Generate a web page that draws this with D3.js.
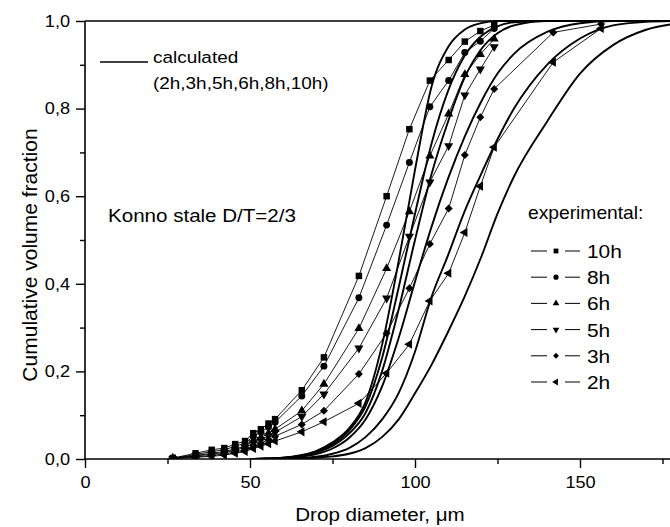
<!DOCTYPE html>
<html>
<head>
<meta charset="utf-8">
<script src="https://cdn.jsdelivr.net/npm/d3@7"></script>
<style>
  body { margin: 0; background: #fff; }
  svg { display: block; font-family: "Liberation Sans", Arial, sans-serif; }
</style>
</head>
<body>
<div id="chart"></div>
<script>
// drop diameters of the measured size classes (um)
const diam = [26.6, 33.5, 38.4, 42.2, 45.5, 48.5, 51.0, 53.3, 55.6, 57.6, 65.7, 72.4, 83.0, 91.4, 98.3, 104.5, 110.2, 115.1, 119.8, 124.0, 141.9, 156.4];

// experimental cumulative volume fractions (null = no point)
const exp10h = [0.002, 0.013, 0.021, 0.025, 0.034, 0.041, 0.059, 0.068, 0.081, 0.091, 0.157, 0.232, 0.418, 0.600, 0.753, 0.864, 0.911, 0.953, 0.977, 0.991, null, null];
const exp8h  = [0.002, 0.010, 0.017, 0.021, 0.029, 0.036, 0.052, 0.061, 0.073, 0.084, 0.144, 0.212, 0.368, 0.534, 0.677, 0.804, 0.864, 0.928, 0.954, 0.983, null, null];
const exp6h  = [0.002, 0.008, 0.013, 0.017, 0.023, 0.029, 0.042, 0.049, 0.059, 0.068, 0.110, 0.171, 0.298, 0.435, 0.565, 0.692, 0.788, 0.878, 0.924, 0.959, null, null];
const exp5h  = [0.001, 0.007, 0.011, 0.015, 0.020, 0.026, 0.037, 0.044, 0.053, 0.061, 0.097, 0.148, 0.253, 0.367, 0.508, 0.632, 0.715, 0.831, 0.890, 0.941, null, null];
const exp3h  = [0.001, 0.005, 0.008, 0.012, 0.016, 0.021, 0.030, 0.036, 0.044, 0.052, 0.079, 0.110, 0.194, 0.287, 0.390, 0.491, 0.572, 0.694, 0.780, 0.845, 0.974, 0.993];
const exp2h  = [0.001, 0.004, 0.006, 0.009, 0.013, 0.017, 0.024, 0.029, 0.035, 0.041, 0.062, 0.085, 0.127, 0.196, 0.262, 0.361, 0.424, 0.517, 0.623, 0.712, 0.906, 0.983];

const seriesNames = ["10h", "8h", "6h", "5h", "3h", "2h"];

const calcDiam = [50, 55, 60, 65, 70, 75, 80, 85, 90, 95, 100, 105, 110, 115, 120, 125, 130, 140, 150, 160, 170, 180];
const calcA = [0, 0.001, 0.003, 0.008, 0.018, 0.038, 0.070, 0.130, 0.260, 0.450, 0.660, 0.850, 0.940, 0.980, 0.995, 1, 1, 1, 1, 1, 1, 1];
const calcB = [0, 0.001, 0.003, 0.007, 0.016, 0.034, 0.065, 0.120, 0.230, 0.390, 0.560, 0.720, 0.840, 0.920, 0.965, 0.988, 0.997, 1, 1, 1, 1, 1];
const calcC = [0, 0.001, 0.002, 0.006, 0.014, 0.030, 0.058, 0.105, 0.200, 0.340, 0.500, 0.650, 0.770, 0.870, 0.935, 0.972, 0.990, 1, 1, 1, 1, 1];
const calcD = [0, 0, 0.002, 0.005, 0.011, 0.024, 0.048, 0.090, 0.165, 0.275, 0.405, 0.530, 0.640, 0.735, 0.815, 0.880, 0.925, 0.975, 0.995, 1, 1, 1];
const calcE = [0, 0, 0.001, 0.002, 0.005, 0.012, 0.025, 0.050, 0.090, 0.150, 0.245, 0.370, 0.465, 0.565, 0.650, 0.730, 0.800, 0.900, 0.960, 0.990, 0.998, 1];
const calcF = [0, 0, 0, 0.001, 0.003, 0.006, 0.012, 0.025, 0.050, 0.090, 0.150, 0.215, 0.290, 0.370, 0.460, 0.560, 0.645, 0.770, 0.880, 0.945, 0.980, 0.995];

const xMajor = [0, 50, 100, 150];
const xMinor = [25, 75, 125, 175];
const yMajor = [0, 0.2, 0.4, 0.6, 0.8, 1.0];
const yMinor = [0.1, 0.3, 0.5, 0.7, 0.9];

const W = 670, H = 527;
const margin = { top: 21, right: 0, bottom: 68, left: 85 };
const SX = 1.1; // the figure's lettering is a bit wider than Arial

const svg = d3.select("#chart").append("svg")
    .attr("width", W)
    .attr("height", H);

const x = d3.scaleLinear().domain([0, 180]).range([margin.left, margin.left + 180 * 3.3]);
const y = d3.scaleLinear().domain([0, 1]).range([H - margin.bottom, margin.top]);

// text helper: widened text at (px, py)
function label(parent, px, py, str, size, anchor, rotate, sx) {
    const g = parent.append("g")
        .attr("transform", `translate(${px},${py})` + (rotate ? ` rotate(${rotate})` : "") + ` scale(${sx || SX},1)`);
    return g.append("text")
        .attr("text-anchor", anchor || "start")
        .style("font-size", size + "px")
        .style("fill", "#000")
        .text(str);
}

const plot = svg.append("g");
svg.append("clipPath").attr("id", "clip")
    .append("rect")
    .attr("x", margin.left).attr("y", margin.top - 6)
    .attr("width", W - margin.left).attr("height", y(0) - margin.top + 6);

// calculated curves
const calcLine = d3.line()
    .x((d, i) => x(calcDiam[i]))
    .y(d => y(d))
    .curve(d3.curveMonotoneX);

plot.append("g").attr("clip-path", "url(#clip)")
    .selectAll("path.calc")
    .data([calcA, calcB, calcC, calcD, calcE, calcF])
    .join("path")
    .attr("class", "calc")
    .attr("d", calcLine)
    .attr("fill", "none")
    .attr("stroke", "#000")
    .attr("stroke-width", 1.9);

// experimental series
const expData = [exp10h, exp8h, exp6h, exp5h, exp3h, exp2h];
const symbols = [
    { type: d3.symbolSquare, size: 42, rot: 0 },
    { type: d3.symbolCircle, size: 38, rot: 0 },
    { type: d3.symbolTriangle, size: 36, rot: 0 },
    { type: d3.symbolTriangle, size: 36, rot: 180 },
    { type: d3.symbolSquare, size: 32, rot: 45 },
    { type: d3.symbolTriangle, size: 36, rot: -90 }
];

const expLine = d3.line()
    .defined(d => d.v !== null)
    .x(d => x(d.d))
    .y(d => y(d.v));

expData.forEach((vals, k) => {
    const pts = vals.map((v, i) => ({ d: diam[i], v: v }));
    const g = plot.append("g").attr("clip-path", "url(#clip)");
    g.append("path")
        .attr("d", expLine(pts))
        .attr("fill", "none")
        .attr("stroke", "#000")
        .attr("stroke-width", 0.9);
    const sym = symbols[k];
    g.selectAll("path.pt")
        .data(pts.filter(p => p.v !== null))
        .join("path")
        .attr("class", "pt")
        .attr("transform", p => `translate(${x(p.d)},${y(p.v)}) rotate(${sym.rot})`)
        .attr("d", d3.symbol().type(sym.type).size(sym.size))
        .attr("fill", "#000");
});

// axes
const fmt = d => d3.format(".1f")(d).replace(".", ",");

const yAxis = svg.append("g")
    .attr("transform", `translate(${margin.left},0)`)
    .call(d3.axisLeft(y).tickValues(yMajor).tickSize(9).tickPadding(5).tickFormat(fmt));
svg.append("g")
    .attr("transform", `translate(${margin.left},0)`)
    .call(d3.axisLeft(y).tickValues(yMinor).tickSize(5).tickFormat(""));

const xAxis = svg.append("g")
    .attr("transform", `translate(0,${y(0)})`)
    .call(d3.axisBottom(x).tickValues(xMajor).tickSize(9).tickPadding(8));
svg.append("g")
    .attr("transform", `translate(0,${y(0)})`)
    .call(d3.axisBottom(x).tickValues(xMinor).tickSize(5).tickFormat(""));

svg.selectAll(".domain").remove();
svg.selectAll(".tick line").attr("stroke", "#000").attr("stroke-width", 1.4);
[yAxis, xAxis].forEach(a => a.selectAll("text")
    .style("font-size", "16.5px")
    .style("font-family", "'Liberation Sans', Arial, sans-serif")
    .attr("fill", "#000"));
yAxis.selectAll("text").attr("transform", `scale(${SX},1)`).attr("x", -15 / SX);
xAxis.selectAll("text").attr("transform", `scale(${SX},1)`);

// frame: left, bottom and top lines
svg.append("line").attr("x1", margin.left).attr("x2", margin.left)
    .attr("y1", margin.top).attr("y2", y(0))
    .attr("stroke", "#000").attr("stroke-width", 1.6);
svg.append("line").attr("x1", margin.left).attr("x2", W)
    .attr("y1", y(0)).attr("y2", y(0))
    .attr("stroke", "#000").attr("stroke-width", 1.6);
svg.append("line").attr("x1", margin.left).attr("x2", W)
    .attr("y1", margin.top).attr("y2", margin.top)
    .attr("stroke", "#000").attr("stroke-width", 1.6);

// axis titles
label(svg, 380, 521, "Drop diameter, \u03bcm", 18.7, "middle");
label(svg, 37, 255, "Cumulative volume fraction", 21, "middle", -90, 1);

// annotations
svg.append("line").attr("x1", 100).attr("x2", 148).attr("y1", 62).attr("y2", 62)
    .attr("stroke", "#000").attr("stroke-width", 1.5);
label(svg, 153, 63, "calculated", 17.2);
label(svg, 153, 89, "(2h,3h,5h,6h,8h,10h)", 17.2);
label(svg, 108, 222, "Konno stale D/T=2/3", 18.7);
label(svg, 528, 219, "experimental:", 17.5);

// legend for experimental series
const legend = svg.append("g");
seriesNames.forEach((name, k) => {
    const ly = 251 + k * 26.2;
    legend.append("line").attr("x1", 531).attr("x2", 547).attr("y1", ly).attr("y2", ly)
        .attr("stroke", "#000").attr("stroke-width", 1);
    legend.append("line").attr("x1", 565).attr("x2", 580).attr("y1", ly).attr("y2", ly)
        .attr("stroke", "#000").attr("stroke-width", 1);
    const sym = symbols[k];
    legend.append("path")
        .attr("transform", `translate(556,${ly}) rotate(${sym.rot})`)
        .attr("d", d3.symbol().type(sym.type).size(sym.size * 0.55))
        .attr("fill", "#000");
    label(legend, 587, ly + 7, name, 19);
});
</script>
</body>
</html>
